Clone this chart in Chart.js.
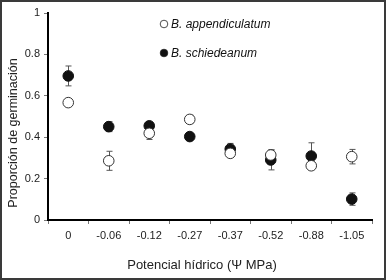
<!DOCTYPE html>
<html>
<head>
<meta charset="utf-8">
<script src="https://cdn.jsdelivr.net/npm/chart.js@4/dist/chart.umd.min.js"></script>
<style>
  html, body { margin: 0; padding: 0; background: #fff; }
  #wrap { position: relative; width: 386px; height: 280px; }
  #frame { position: absolute; left: 0; top: 0; width: 386px; height: 280px; box-sizing: border-box; border: 2px solid #3a3a3a; pointer-events: none; }
  canvas { position: absolute; left: 0; top: 0; }
</style>
</head>
<body>
<div id="wrap">
  <canvas id="c" width="386" height="280"></canvas>
  <div id="frame"></div>
</div>
<script>
const categories = ['0', '-0.06', '-0.12', '-0.27', '-0.37', '-0.52', '-0.88', '-1.05'];
const seriesNames = ['B. appendiculatum', 'B. schiedeanum'];
const appendiculatum = [0.567, 0.286, 0.419, 0.486, 0.322, 0.314, 0.262, 0.306];
const appendiculatumErr = [0.01, 0.046, 0.03, 0.02, 0.015, 0.025, 0.015, 0.035];
const schiedeanum = [0.696, 0.451, 0.455, 0.403, 0.343, 0.290, 0.309, 0.101];
const schiedeanumErr = [0.048, 0.024, 0.015, 0.01, 0.027, 0.048, 0.064, 0.03];
const yTicks = [0, 0.2, 0.4, 0.6, 0.8, 1];
const xTitle = 'Potencial hídrico (Ψ MPa)';
const yTitle = 'Proporción de germinación';

const FONT = "'Liberation Sans', Arial, sans-serif";

const errorBars = {
  id: 'errorBars',
  beforeDatasetsDraw(chart) {
    const ctx = chart.ctx;
    const y = chart.scales.y;
    ctx.save();
    ctx.strokeStyle = '#555';
    ctx.lineWidth = 1;
    chart.data.datasets.forEach((ds, di) => {
      const meta = chart.getDatasetMeta(di);
      meta.data.forEach((pt, i) => {
        const e = ds.errors[i];
        const v = ds.data[i];
        const x = Math.round(pt.x) + 0.5;
        const yt = y.getPixelForValue(v + e);
        const yb = y.getPixelForValue(v - e);
        ctx.beginPath();
        ctx.moveTo(x, yt); ctx.lineTo(x, yb);
        ctx.moveTo(x - 3, yt); ctx.lineTo(x + 3, yt);
        ctx.moveTo(x - 3, yb); ctx.lineTo(x + 3, yb);
        ctx.stroke();
      });
    });
    ctx.restore();
  }
};

const textLayer = {
  id: 'textLayer',
  afterDraw(chart) {
    const ctx = chart.ctx;
    ctx.save();
    // legend inside plot
    ctx.font = 'italic 12px ' + FONT;
    ctx.textBaseline = 'middle';
    const rows = [24, 53];
    seriesNames.forEach((name, i) => {
      const ds = chart.data.datasets[i];
      ctx.beginPath();
      ctx.arc(164, rows[i], 3.8, 0, Math.PI * 2);
      ctx.fillStyle = ds.pointBackgroundColor;
      ctx.fill();
      ctx.strokeStyle = '#222';
      ctx.lineWidth = 0.8;
      ctx.stroke();
      ctx.fillStyle = '#111';
      ctx.textAlign = 'left';
      ctx.fillText(name, 171, rows[i] + 1);
    });
    // axis titles
    ctx.fillStyle = '#222';
    ctx.textAlign = 'center';
    ctx.font = '13px ' + FONT;
    ctx.fillText(xTitle, 202, 265);
    ctx.translate(14, 133);
    ctx.rotate(-Math.PI / 2);
    ctx.font = '12.5px ' + FONT;
    ctx.fillText(yTitle, 0, 0);
    ctx.restore();
  }
};

new Chart(document.getElementById('c'), {
  type: 'line',
  data: {
    labels: categories,
    datasets: [
      {
        label: seriesNames[0],
        data: appendiculatum,
        errors: appendiculatumErr,
        showLine: false,
        pointRadius: 5.3,
        pointBackgroundColor: '#ffffff',
        pointBorderColor: '#333',
        pointBorderWidth: 1
      },
      {
        label: seriesNames[1],
        data: schiedeanum,
        errors: schiedeanumErr,
        showLine: false,
        pointRadius: 5.3,
        pointBackgroundColor: '#111111',
        pointBorderColor: '#111',
        pointBorderWidth: 1
      }
    ]
  },
  options: {
    responsive: false,
    animation: false,
    devicePixelRatio: 1,
    layout: { padding: { left: 4, right: 14, top: 13, bottom: 4 } },
    plugins: { legend: { display: false }, tooltip: { enabled: false } },
    scales: {
      x: {
        offset: true,
        grid: { display: true, offset: true, drawOnChartArea: false, drawTicks: true, tickLength: 4, color: '#777' },
        border: { display: true, color: '#000', width: 2 },
        ticks: { color: '#222', font: { family: FONT, size: 11 }, padding: 5, maxRotation: 0, autoSkip: false },
        title: { display: false },
        afterFit(s) { s.height = 56; }
      },
      y: {
        min: 0, max: 1,
        afterBuildTicks(s) { s.ticks = yTicks.map(v => ({ value: v })); },
        grid: { display: true, drawOnChartArea: false, drawTicks: true, tickLength: 4, color: '#777' },
        border: { display: true, color: '#000', width: 2 },
        ticks: { color: '#222', font: { family: FONT, size: 11 }, padding: 4, callback: v => String(Number(v.toFixed(1))) },
        title: { display: false },
        afterFit(s) { s.width = 44; }
      }
    }
  },
  plugins: [errorBars, textLayer]
});
</script>
</body>
</html>
